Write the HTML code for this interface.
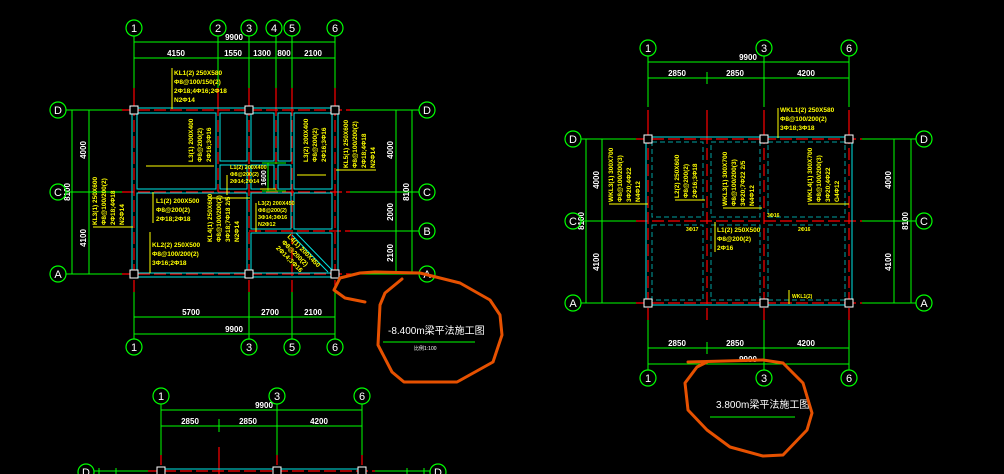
<!DOCTYPE html>
<html><head><meta charset="utf-8"><style>
html,body{margin:0;padding:0;background:#000;width:1004px;height:474px;overflow:hidden}
svg{display:block}
text{font-family:"Liberation Sans","Noto Sans CJK SC",sans-serif}
.g{stroke:#00ff00;stroke-width:1;fill:none}
.c{stroke:#00e6e6;stroke-width:1;fill:none}
.cd{stroke:#00a0a0;stroke-width:1;fill:none;stroke-dasharray:5,3}
.r{stroke:#ff0000;stroke-width:1.2;fill:none;stroke-dasharray:12,4}
.rs{stroke:#ff0000;stroke-width:1.2;fill:none}
.w{stroke:#ffffff;stroke-width:1;fill:#000}
.y{stroke:#ffff00;stroke-width:1;fill:none}
.o{stroke:#e65100;stroke-width:3;fill:none;stroke-linejoin:round;stroke-linecap:round}
.bt{fill:#fff;font-size:11px;text-anchor:middle}
.dt{fill:#fff;font-size:8px;text-anchor:middle;font-weight:bold}
.yt{fill:#ffff00;font-size:6.5px;font-weight:bold}
</style></head><body>
<svg width="1004" height="474" viewBox="0 0 1004 474" xmlns="http://www.w3.org/2000/svg">
<!-- ================= LEFT PLAN ================= -->
<g>
<path class="g" d="M134,36V88 M218,36V88 M249,36V88 M276,36V88 M292,36V88 M335,36V88"/>
<path class="rs" d="M134,88V104 M218,88V104 M249,88V104 M276,88V104 M292,88V104 M335,88V104"/>
<path class="g" d="M134,42H335 M134,58H335"/>
<text class="dt" x="234" y="40">9900</text>
<text class="dt" x="176" y="56">4150</text><text class="dt" x="233" y="56">1550</text>
<text class="dt" x="262" y="56">1300</text><text class="dt" x="284" y="56">800</text><text class="dt" x="313" y="56">2100</text>
<path class="rs" d="M134,280V292 M249,280V292 M292,280V292 M335,280V292"/>
<path class="g" d="M134,292V339 M249,292V339 M292,292V339 M335,292V339 M134,317H335 M134,334H335"/>
<text class="dt" x="191" y="315">5700</text><text class="dt" x="270" y="315">2700</text><text class="dt" x="313" y="315">2100</text>
<text class="dt" x="234" y="332">9900</text>
<path class="g" d="M66,110H122 M66,192H122 M66,274H122 M350,110H419 M350,192H419 M350,231H419 M350,274H419"/>
<path class="g" d="M72,110V274 M89,110V274 M396,110V274 M412,110V274"/>
<text class="dt" transform="translate(86,150) rotate(-90)">4000</text>
<text class="dt" transform="translate(86,238) rotate(-90)">4100</text>
<text class="dt" transform="translate(70,192) rotate(-90)">8100</text>
<text class="dt" transform="translate(393,150) rotate(-90)">4000</text>
<text class="dt" transform="translate(393,212) rotate(-90)">2000</text>
<text class="dt" transform="translate(393,253) rotate(-90)">2100</text>
<text class="dt" transform="translate(409,192) rotate(-90)">8100</text>
<path class="r" d="M122,110H350 M122,192H350 M249,231H350 M122,274H350 M134,104V280 M218,104V192 M249,104V280 M276,104V192 M292,104V280 M335,104V280"/>
<rect class="c" x="132" y="108" width="206" height="169"/>
<rect class="c" x="137" y="113" width="79" height="76"/>
<rect class="c" x="220" y="113" width="27" height="48"/>
<rect class="c" x="251" y="113" width="23" height="48"/>
<rect class="c" x="278" y="113" width="13" height="48"/>
<rect class="c" x="294" y="113" width="38" height="76"/>
<rect class="c" x="220" y="165" width="27" height="24"/>
<rect class="c" x="251" y="165" width="23" height="24"/>
<rect class="c" x="278" y="165" width="13" height="24"/>
<rect class="c" x="137" y="193" width="110" height="80"/>
<rect class="c" x="251" y="193" width="40" height="36"/>
<rect class="c" x="294" y="193" width="38" height="36"/>
<rect class="c" x="251" y="233" width="81" height="40"/>
<path class="c" d="M296,233L332,270 M292,235L328,272"/>
<path class="g" d="M268,163V191 M262,163H286 M262,191H286"/>
<text class="dt" transform="translate(266,178) rotate(-90)" style="font-size:7px">1600</text>
<rect class="w" x="130" y="106" width="8" height="8"/><rect class="w" x="245" y="106" width="8" height="8"/><rect class="w" x="331" y="106" width="8" height="8"/>
<rect class="w" x="130" y="270" width="8" height="8"/><rect class="w" x="245" y="270" width="8" height="8"/><rect class="w" x="331" y="270" width="8" height="8"/>
<path class="y" d="M172,68V109 M146,166H214 M153,192V223 M208,198H250 M150,232V273 M227,175V195 M297,175H326 M260,189H276 M256,203V232 M336,170H376 M93,227H133"/>
<text class="yt" x="174" y="75">KL1(2) 250X580</text>
<text class="yt" x="174" y="84">Φ8@100/150(2)</text>
<text class="yt" x="174" y="93">2Φ18;4Φ16;2Φ18</text>
<text class="yt" x="174" y="102">N2Φ14</text>
<text class="yt" x="156" y="203">L1(2) 200X500</text><text class="yt" x="156" y="212">Φ8@200(2)</text><text class="yt" x="156" y="221">2Φ18;2Φ18</text>
<text class="yt" x="152" y="247">KL2(2) 250X500</text><text class="yt" x="152" y="256">Φ8@100/200(2)</text><text class="yt" x="152" y="265">3Φ16;2Φ18</text>
<text class="yt" x="230" y="169" style="font-size:5.5px">L1(2) 200X400</text><text class="yt" x="230" y="176" style="font-size:5.5px">Φ8@200(2)</text><text class="yt" x="230" y="183" style="font-size:5.5px">2Φ14;2Φ14</text>
<text class="yt" x="258" y="205" style="font-size:5.5px">L3(2) 200X450</text><text class="yt" x="258" y="212" style="font-size:5.5px">Φ8@200(2)</text><text class="yt" x="258" y="219" style="font-size:5.5px">3Φ14;3Φ16</text><text class="yt" x="258" y="226" style="font-size:5.5px">N2Φ12</text>
<g transform="translate(193,162) rotate(-90)"><text class="yt" x="0" y="0">L3(1) 200X400</text><text class="yt" x="0" y="9">Φ8@200(2)</text><text class="yt" x="0" y="18">2Φ16;3Φ16</text></g>
<g transform="translate(308,162) rotate(-90)"><text class="yt" x="0" y="0">L3(2) 200X400</text><text class="yt" x="0" y="9">Φ8@200(2)</text><text class="yt" x="0" y="18">2Φ16;3Φ16</text></g>
<g transform="translate(97,225) rotate(-90)"><text class="yt" x="0" y="0">KL3(1) 250X600</text><text class="yt" x="0" y="9">Φ8@100/200(2)</text><text class="yt" x="0" y="18">2Φ18;4Φ18</text><text class="yt" x="0" y="27">N2Φ14</text></g>
<g transform="translate(348,168) rotate(-90)"><text class="yt" x="0" y="0">KL5(1) 250X600</text><text class="yt" x="0" y="9">Φ8@100/200(2)</text><text class="yt" x="0" y="18">2Φ18;4Φ18</text><text class="yt" x="0" y="27">N2Φ14</text></g>
<g transform="translate(212,242) rotate(-90)"><text class="yt" x="0" y="0">KL4(1) 250X600</text><text class="yt" x="0" y="9">Φ8@100/200(2)</text><text class="yt" x="0" y="18">3Φ18;7Φ18 2/5</text><text class="yt" x="0" y="27">N2Φ14</text></g>
<g transform="translate(287,237) rotate(45)"><text class="yt" x="0" y="0">L4(1) 200X450</text><text class="yt" x="0" y="8">Φ8@200(2)</text><text class="yt" x="0" y="16">2Φ14;3Φ16</text></g>
<g class="g" style="stroke-width:1.2">
<circle cx="134" cy="28" r="8"/><circle cx="218" cy="28" r="8"/><circle cx="249" cy="28" r="8"/><circle cx="274" cy="28" r="8"/><circle cx="292" cy="28" r="8"/><circle cx="335" cy="28" r="8"/>
<circle cx="134" cy="347" r="8"/><circle cx="249" cy="347" r="8"/><circle cx="292" cy="347" r="8"/><circle cx="335" cy="347" r="8"/>
<circle cx="58" cy="110" r="8"/><circle cx="58" cy="192" r="8"/><circle cx="58" cy="274" r="8"/>
<circle cx="427" cy="110" r="8"/><circle cx="427" cy="192" r="8"/><circle cx="427" cy="231" r="8"/><circle cx="427" cy="274" r="8"/>
</g>
<text class="bt" x="134" y="32">1</text><text class="bt" x="218" y="32">2</text><text class="bt" x="249" y="32">3</text><text class="bt" x="274" y="32">4</text><text class="bt" x="292" y="32">5</text><text class="bt" x="335" y="32">6</text>
<text class="bt" x="134" y="351">1</text><text class="bt" x="249" y="351">3</text><text class="bt" x="292" y="351">5</text><text class="bt" x="335" y="351">6</text>
<text class="bt" x="58" y="114">D</text><text class="bt" x="58" y="196">C</text><text class="bt" x="58" y="278">A</text>
<text class="bt" x="427" y="114">D</text><text class="bt" x="427" y="196">C</text><text class="bt" x="427" y="235">B</text><text class="bt" x="427" y="278">A</text>
<text x="388" y="334" style="fill:#fff;font-size:10px">-8.400m梁平法施工图</text>
<path class="g" d="M383,342H475"/>
<text x="414" y="350" style="fill:#fff;font-size:5px">比例1:100</text>
<path class="o" d="M402,279 L385,293 L380,305 L378,345 L392,372 L404,382 L457,382 L493,362 L502,335 L500,315 L490,300 L460,283 L420,273 L375,272 L360,273 L340,278 L334,290 L345,298 L365,302"/>
</g>

<!-- ================= RIGHT PLAN ================= -->
<g>
<path class="g" d="M648,56V107 M764,56V107 M849,56V107 M707,72V84 M648,62H849 M648,78H849"/>
<path class="rs" d="M648,110V132 M707,110V132 M764,110V132 M849,110V132"/>
<text class="dt" x="748" y="60">9900</text>
<text class="dt" x="677" y="76">2850</text><text class="dt" x="735" y="76">2850</text><text class="dt" x="806" y="76">4200</text>
<path class="rs" d="M648,310V320 M707,310V320 M764,310V320 M849,310V320"/>
<path class="g" d="M648,320V370 M764,320V370 M849,320V370 M707,342V354 M648,348H849 M648,364H849"/>
<text class="dt" x="677" y="346">2850</text><text class="dt" x="735" y="346">2850</text><text class="dt" x="806" y="346">4200</text>
<text class="dt" x="748" y="362">9900</text>
<path class="g" d="M581,139H636 M581,221H636 M581,303H636 M862,139H916 M862,221H916 M862,303H916 M586,139V303 M602,139V303 M894,139V303 M911,139V303"/>
<text class="dt" transform="translate(599,180) rotate(-90)">4000</text>
<text class="dt" transform="translate(599,262) rotate(-90)">4100</text>
<text class="dt" transform="translate(584,221) rotate(-90)">8100</text>
<text class="dt" transform="translate(891,180) rotate(-90)">4000</text>
<text class="dt" transform="translate(891,262) rotate(-90)">4100</text>
<text class="dt" transform="translate(908,221) rotate(-90)">8100</text>
<path class="r" d="M636,139H862 M636,221H862 M636,303H862 M648,132V310 M707,132V310 M764,132V310 M849,132V310"/>
<rect class="c" x="646" y="137" width="206" height="168"/>
<rect class="cd" x="652" y="142" width="51" height="75"/><rect class="cd" x="711" y="142" width="49" height="75"/><rect class="cd" x="768" y="142" width="77" height="75"/>
<rect class="cd" x="652" y="225" width="51" height="75"/><rect class="cd" x="711" y="225" width="49" height="75"/><rect class="cd" x="768" y="225" width="77" height="75"/>
<rect class="w" x="644" y="135" width="8" height="8"/><rect class="w" x="760" y="135" width="8" height="8"/><rect class="w" x="845" y="135" width="8" height="8"/>
<rect class="w" x="644" y="299" width="8" height="8"/><rect class="w" x="760" y="299" width="8" height="8"/><rect class="w" x="845" y="299" width="8" height="8"/>
<path class="y" d="M778,108V138 M609,204H648 M675,200H705 M723,208H762 M808,204H849 M715,222V252 M789,290V304"/>
<text class="yt" x="780" y="112">WKL1(2) 250X580</text><text class="yt" x="780" y="121">Φ8@100/200(2)</text><text class="yt" x="780" y="130">3Φ18;3Φ18</text>
<text class="yt" x="717" y="232">L1(2) 250X500</text><text class="yt" x="717" y="241">Φ8@200(2)</text><text class="yt" x="717" y="250">2Φ16</text>
<text class="yt" x="767" y="217" style="font-size:5px">3Φ16</text><text class="yt" x="686" y="231" style="font-size:5px">3Φ17</text><text class="yt" x="798" y="231" style="font-size:5px">2Φ16</text>
<text class="yt" x="792" y="298" style="font-size:5px">WKL1(2)</text>
<g transform="translate(613,202) rotate(-90)"><text class="yt" x="0" y="0">WKL3(1) 300X700</text><text class="yt" x="0" y="9">Φ8@100/200(3)</text><text class="yt" x="0" y="18">3Φ20;4Φ22</text><text class="yt" x="0" y="27">N4Φ12</text></g>
<g transform="translate(679,198) rotate(-90)"><text class="yt" x="0" y="0">L2(2) 250X600</text><text class="yt" x="0" y="9">Φ8@200(2)</text><text class="yt" x="0" y="18">2Φ16;3Φ18</text></g>
<g transform="translate(727,206) rotate(-90)"><text class="yt" x="0" y="0">WKL3(1) 300X700</text><text class="yt" x="0" y="9">Φ8@100/200(3)</text><text class="yt" x="0" y="18">3Φ20;7Φ22 2/5</text><text class="yt" x="0" y="27">N4Φ12</text></g>
<g transform="translate(812,202) rotate(-90)"><text class="yt" x="0" y="0">WKL4(1) 300X700</text><text class="yt" x="0" y="9">Φ8@100/200(3)</text><text class="yt" x="0" y="18">3Φ20;4Φ22</text><text class="yt" x="0" y="27">G4Φ12</text></g>
<g class="g" style="stroke-width:1.2">
<circle cx="648" cy="48" r="8"/><circle cx="764" cy="48" r="8"/><circle cx="849" cy="48" r="8"/>
<circle cx="648" cy="378" r="8"/><circle cx="764" cy="378" r="8"/><circle cx="849" cy="378" r="8"/>
<circle cx="573" cy="139" r="8"/><circle cx="573" cy="221" r="8"/><circle cx="573" cy="303" r="8"/>
<circle cx="924" cy="139" r="8"/><circle cx="924" cy="221" r="8"/><circle cx="924" cy="303" r="8"/>
</g>
<text class="bt" x="648" y="52">1</text><text class="bt" x="764" y="52">3</text><text class="bt" x="849" y="52">6</text>
<text class="bt" x="648" y="382">1</text><text class="bt" x="764" y="382">3</text><text class="bt" x="849" y="382">6</text>
<text class="bt" x="573" y="143">D</text><text class="bt" x="573" y="225">C</text><text class="bt" x="573" y="307">A</text>
<text class="bt" x="924" y="143">D</text><text class="bt" x="924" y="225">C</text><text class="bt" x="924" y="307">A</text>
<text x="716" y="408" style="fill:#fff;font-size:10px">3.800m梁平法施工图</text>
<path class="g" d="M710,417H795"/>
<path class="o" d="M688,362 L763,360 L783,363 L803,383 L812,413 L807,430 L783,455 L763,456 L730,447 L707,430 L688,410 L685,383 L697,367 L707,362"/>
</g>

<!-- ================= BOTTOM PLAN ================= -->
<g>
<path class="g" d="M161,404V455 M277,404V455 M362,404V455 M219,419V432 M161,410H362 M161,426H362"/>
<path class="rs" d="M161,455V465 M219,447V474 M277,455V465 M362,455V465"/>
<text class="dt" x="264" y="408">9900</text>
<text class="dt" x="190" y="424">2850</text><text class="dt" x="248" y="424">2850</text><text class="dt" x="319" y="424">4200</text>
<path class="g" d="M94,471H148 M375,471H430 M99,468V474 M116,468V474 M407,468V474 M424,468V474"/>
<path class="r" d="M148,471H375"/>
<path class="c" d="M160,469H363"/>
<rect class="w" x="157" y="467" width="8" height="8"/><rect class="w" x="273" y="467" width="8" height="8"/><rect class="w" x="358" y="467" width="8" height="8"/>
<g class="g" style="stroke-width:1.2">
<circle cx="161" cy="396" r="8"/><circle cx="277" cy="396" r="8"/><circle cx="362" cy="396" r="8"/>
<circle cx="86" cy="472" r="8"/><circle cx="438" cy="472" r="8"/>
</g>
<text class="bt" x="161" y="400">1</text><text class="bt" x="277" y="400">3</text><text class="bt" x="362" y="400">6</text>
<text class="bt" x="86" y="476">D</text><text class="bt" x="438" y="476">D</text>
</g>
</svg>
</body></html>
